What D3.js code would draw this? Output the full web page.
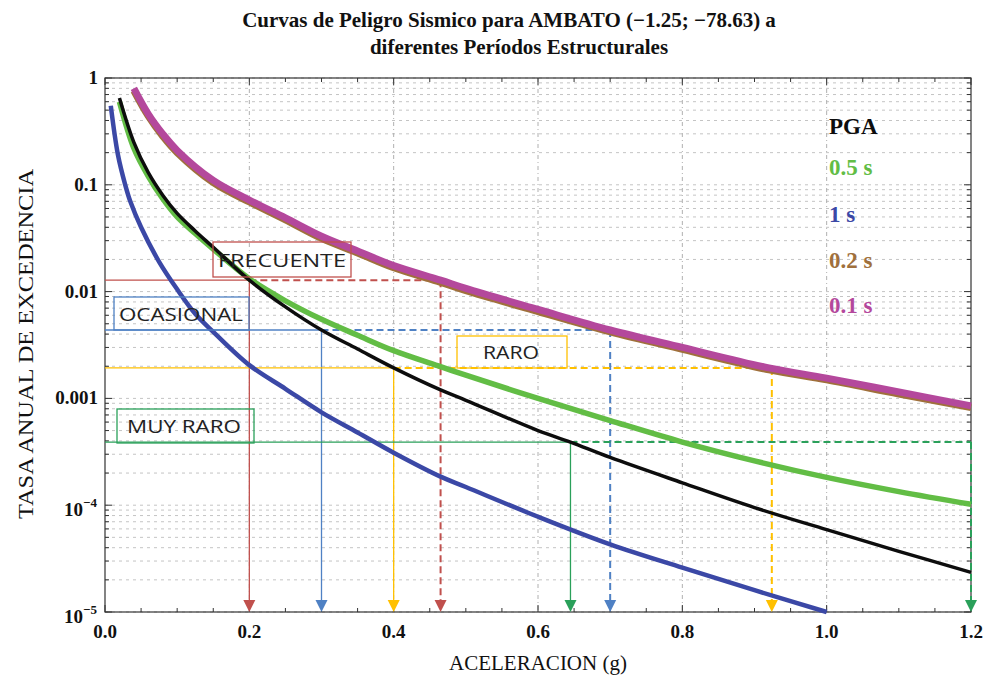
<!DOCTYPE html>
<html>
<head>
<meta charset="utf-8">
<script src="https://cdn.jsdelivr.net/npm/d3@7"></script>
<style>
  html, body { margin: 0; padding: 0; background: #fff; }
  svg { display: block; }
</style>
</head>
<body>
<svg id="chart" width="992" height="677"></svg>
<script>
// Hazard curves: annual exceedance rate vs. spectral acceleration (g)
const accelPGA = [0.02, 0.04, 0.06, 0.08, 0.1, 0.125, 0.15, 0.2, 0.25, 0.3, 0.35, 0.4, 0.465, 0.5, 0.6, 0.645, 0.7, 0.8, 0.9, 1.0, 1.1, 1.2];
const ratePGA  = [0.65, 0.25, 0.13, 0.08, 0.054, 0.037, 0.026, 0.0128, 0.0072, 0.00437, 0.0029, 0.00193, 0.0012, 0.00096, 0.0005, 0.00039, 0.00028, 0.000162, 0.000095, 0.000059, 0.000037, 0.0000235];

const accel05 = [0.02, 0.04, 0.06, 0.08, 0.1, 0.125, 0.15, 0.2, 0.25, 0.3, 0.35, 0.4, 0.465, 0.5, 0.6, 0.7, 0.8, 0.9, 1.0, 1.1, 1.2];
const rate05  = [0.6, 0.22, 0.12, 0.074, 0.05, 0.035, 0.025, 0.0132, 0.0082, 0.0055, 0.0039, 0.0028, 0.00198, 0.00165, 0.001, 0.00062, 0.00039, 0.00026, 0.000182, 0.000134, 0.000102];

const accel1 = [0.008, 0.018, 0.028, 0.035, 0.05, 0.075, 0.1, 0.125, 0.15, 0.2, 0.25, 0.3, 0.35, 0.4, 0.465, 0.5, 0.6, 0.7, 0.8, 0.9, 1.0];
const rate1  = [0.55, 0.19, 0.1, 0.07, 0.04, 0.019, 0.0105, 0.0062, 0.0042, 0.00205, 0.00123, 0.00074, 0.00048, 0.00031, 0.000185, 0.000148, 0.000078, 0.000043, 0.000026, 0.000016, 0.00001];

const accelShort = [0.04, 0.06, 0.08, 0.1, 0.15, 0.2, 0.25, 0.3, 0.35, 0.4, 0.465, 0.5, 0.6, 0.7, 0.8, 0.92, 1.0, 1.1, 1.2];
const rate02 = [0.76, 0.44, 0.285, 0.2, 0.105, 0.069, 0.047, 0.0315, 0.023, 0.0167, 0.0122, 0.0102, 0.0065, 0.0042, 0.00288, 0.00185, 0.00149, 0.0011, 0.00082];
const rate01 = [0.8, 0.46, 0.30, 0.21, 0.11, 0.072, 0.049, 0.033, 0.024, 0.0175, 0.0128, 0.0107, 0.0068, 0.00437, 0.003, 0.00193, 0.00155, 0.00115, 0.00085];

// Performance levels: return rate, acceleration on PGA curve, acceleration on short-period curve
const levelNames = ["FRECUENTE", "OCASIONAL", "RARO", "MUY RARO"];
const levelRates = [0.0128, 0.00437, 0.00193, 0.00039];
const levelAccelPGA = [0.2, 0.3, 0.4, 0.645];
const levelAccelShort = [0.465, 0.70, 0.924, 1.2];

const legendLabels = ["PGA", "0.5 s", "1 s", "0.2 s", "0.1 s"];
const xTickValues = [0, 0.2, 0.4, 0.6, 0.8, 1.0, 1.2];

// ---- styling / layout ----
const serif = "'Liberation Serif', 'DejaVu Serif', serif";
const sans = "'Open Sans', 'Liberation Sans', sans-serif";
const levelColors = ["#c0504d", "#4f81c4", "#ffc000", "#2aa05a"];
const levelBoxes = [
  { x: 213, y: 242, w: 138, h: 35, tx: 218, tl: 128 },
  { x: 114, y: 297, w: 135, h: 33, tx: 119, tl: 124 },
  { x: 457, y: 336, w: 110, h: 32, tx: 483, tl: 56 },
  { x: 117, y: 409, w: 137, h: 34, tx: 127, tl: 114 }
];

const svg = d3.select("#chart");
const L = 105, R = 971, T = 78, B = 612;
const x = d3.scaleLinear().domain([0, 1.2]).range([L, R]);
const y = d3.scaleLog().domain([1e-5, 1]).range([B, T]);

// ---- grid ----
const grid = svg.append("g");
const yVals = y.ticks();
grid.selectAll("line.hg").data(yVals).join("line")
  .attr("x1", L).attr("x2", R)
  .attr("y1", d => y(d)).attr("y2", d => y(d))
  .attr("stroke", "#c4c4c4").attr("stroke-width", 1)
  .attr("stroke-dasharray", "3,4");
grid.selectAll("line.vg").data([0.2, 0.4, 0.6, 0.8, 1.0]).join("line")
  .attr("x1", d => x(d)).attr("x2", d => x(d))
  .attr("y1", T).attr("y2", B)
  .attr("stroke", "#b0b0b0").attr("stroke-width", 1)
  .attr("stroke-dasharray", "4,3,1,3");

// ---- frame and ticks ----
svg.append("rect").attr("x", L).attr("y", T).attr("width", R - L).attr("height", B - T)
  .attr("fill", "none").attr("stroke", "#333").attr("stroke-width", 1.2);

const isMajorY = d => Math.abs(Math.log10(d) - Math.round(Math.log10(d))) < 1e-9;
const ticks = svg.append("g").attr("stroke", "#333").attr("stroke-width", 1);
yVals.forEach(d => {
  const len = isMajorY(d) ? 7 : 4;
  ticks.append("line").attr("x1", L).attr("x2", L + len).attr("y1", y(d)).attr("y2", y(d));
  ticks.append("line").attr("x1", R).attr("x2", R - len).attr("y1", y(d)).attr("y2", y(d));
});
d3.range(0, 25).map(i => i * 0.05).forEach((d, i) => {
  const len = i % 4 === 0 ? 7 : 4;
  ticks.append("line").attr("x1", x(d)).attr("x2", x(d)).attr("y1", B).attr("y2", B - len);
  ticks.append("line").attr("x1", x(d)).attr("x2", x(d)).attr("y1", T).attr("y2", T + len);
});

// ---- tick labels ----
svg.append("g").selectAll("text").data(xTickValues).join("text")
  .attr("x", d => x(d)).attr("y", B + 26)
  .attr("text-anchor", "middle")
  .attr("font-family", serif).attr("font-weight", "bold").attr("font-size", 19)
  .attr("fill", "#111")
  .text(d => d.toFixed(1));

const yMajor = yVals.filter(isMajorY);
const yl = svg.append("g").attr("font-family", serif).attr("font-weight", "bold").attr("fill", "#111");
yMajor.forEach(d => {
  const e = Math.round(Math.log10(d));
  if (e >= -3) {
    yl.append("text").attr("x", L - 7).attr("y", y(d) + 6)
      .attr("text-anchor", "end").attr("font-size", 19)
      .text(e === 0 ? "1" : d3.format("." + (-e) + "f")(d));
  } else {
    const t = yl.append("text").attr("x", L - 8).attr("y", y(d) + 11)
      .attr("text-anchor", "end").attr("font-size", 19);
    t.append("tspan").text("10");
    t.append("tspan").attr("dy", -9).attr("font-size", 13).text("\u2212" + (-e));
  }
});

// ---- performance level guide lines ----
const guides = svg.append("g");
levelNames.forEach((name, i) => {
  const c = levelColors[i], r = levelRates[i];
  const a1 = levelAccelPGA[i], a2 = levelAccelShort[i];
  guides.append("line").attr("x1", L).attr("x2", x(a1))
    .attr("y1", y(r)).attr("y2", y(r)).attr("stroke", c).attr("stroke-width", 1.3);
  guides.append("line").attr("x1", x(a1)).attr("x2", x(a2))
    .attr("y1", y(r)).attr("y2", y(r)).attr("stroke", c).attr("stroke-width", 2)
    .attr("stroke-dasharray", "7,4");
  guides.append("line").attr("x1", x(a1)).attr("x2", x(a1))
    .attr("y1", y(r)).attr("y2", B - 8).attr("stroke", c).attr("stroke-width", 1.3);
  guides.append("line").attr("x1", x(a2)).attr("x2", x(a2))
    .attr("y1", y(r)).attr("y2", B - 8).attr("stroke", c).attr("stroke-width", 2)
    .attr("stroke-dasharray", "7,4");
});

// ---- hazard curves ----
const line = d3.line().x(d => x(d[0])).y(d => y(d[1])).curve(d3.curveCatmullRom.alpha(0.5));
const series = [
  { a: accelShort, r: rate02, color: "#a0703c", w: 7 },
  { a: accelShort, r: rate01, color: "#b4489c", w: 7 },
  { a: accel05, r: rate05, color: "#62bd45", w: 5.5 },
  { a: accel1, r: rate1, color: "#3b48a6", w: 4.5 },
  { a: accelPGA, r: ratePGA, color: "#0d0d0d", w: 3.5 }
];
svg.append("g").selectAll("path").data(series).join("path")
  .attr("d", s => line(d3.zip(s.a, s.r)))
  .attr("fill", "none").attr("stroke", s => s.color)
  .attr("stroke-width", s => s.w).attr("stroke-linecap", "butt").attr("stroke-linejoin", "round");

// ---- arrowheads at the acceleration axis ----
const arrows = svg.append("g");
levelNames.forEach((name, i) => {
  [levelAccelPGA[i], levelAccelShort[i]].forEach(a => {
    const px = x(a);
    arrows.append("path")
      .attr("d", `M${px - 6},${B - 12}L${px + 6},${B - 12}L${px},${B}Z`)
      .attr("fill", levelColors[i]);
  });
});

// ---- level label boxes ----
const boxes = svg.append("g");
levelNames.forEach((name, i) => {
  const b = levelBoxes[i];
  boxes.append("rect").attr("x", b.x).attr("y", b.y).attr("width", b.w).attr("height", b.h)
    .attr("fill", "none").attr("stroke", levelColors[i]).attr("stroke-width", 1.3);
  boxes.append("text").attr("x", b.tx).attr("y", b.y + b.h / 2 + 7)
    .attr("font-family", sans).attr("font-size", 19).attr("fill", "#222")
    .attr("textLength", b.tl).attr("lengthAdjust", "spacingAndGlyphs")
    .text(name);
});

// ---- legend ----
const legendColors = ["#0d0d0d", "#62bd45", "#3b48a6", "#a0703c", "#b4489c"];
const legendY = [134, 175, 222, 268, 313];
svg.append("g").selectAll("text").data(legendLabels).join("text")
  .attr("x", 829).attr("y", (d, i) => legendY[i])
  .attr("font-family", serif).attr("font-weight", "bold").attr("font-size", 23)
  .attr("fill", (d, i) => legendColors[i])
  .text(d => d);

// ---- titles ----
const title = svg.append("g").attr("font-family", serif).attr("font-weight", "bold")
  .attr("font-size", 21).attr("fill", "#111").attr("text-anchor", "middle");
title.append("text").attr("x", 509).attr("y", 27)
  .text("Curvas de Peligro Sismico para AMBATO (\u22121.25; \u221278.63) a");
title.append("text").attr("x", 519).attr("y", 54)
  .text("diferentes Períodos Estructurales");

svg.append("text").attr("x", 538).attr("y", 670).attr("text-anchor", "middle")
  .attr("font-family", serif).attr("font-size", 21).attr("fill", "#111")
  .text("ACELERACION (g)");

svg.append("text")
  .attr("transform", "translate(33,344) rotate(-90)")
  .attr("text-anchor", "middle")
  .attr("font-family", serif).attr("font-size", 21).attr("fill", "#111")
  .attr("textLength", 350).attr("lengthAdjust", "spacingAndGlyphs")
  .text("TASA ANUAL DE EXCEDENCIA");
</script>
</body>
</html>
